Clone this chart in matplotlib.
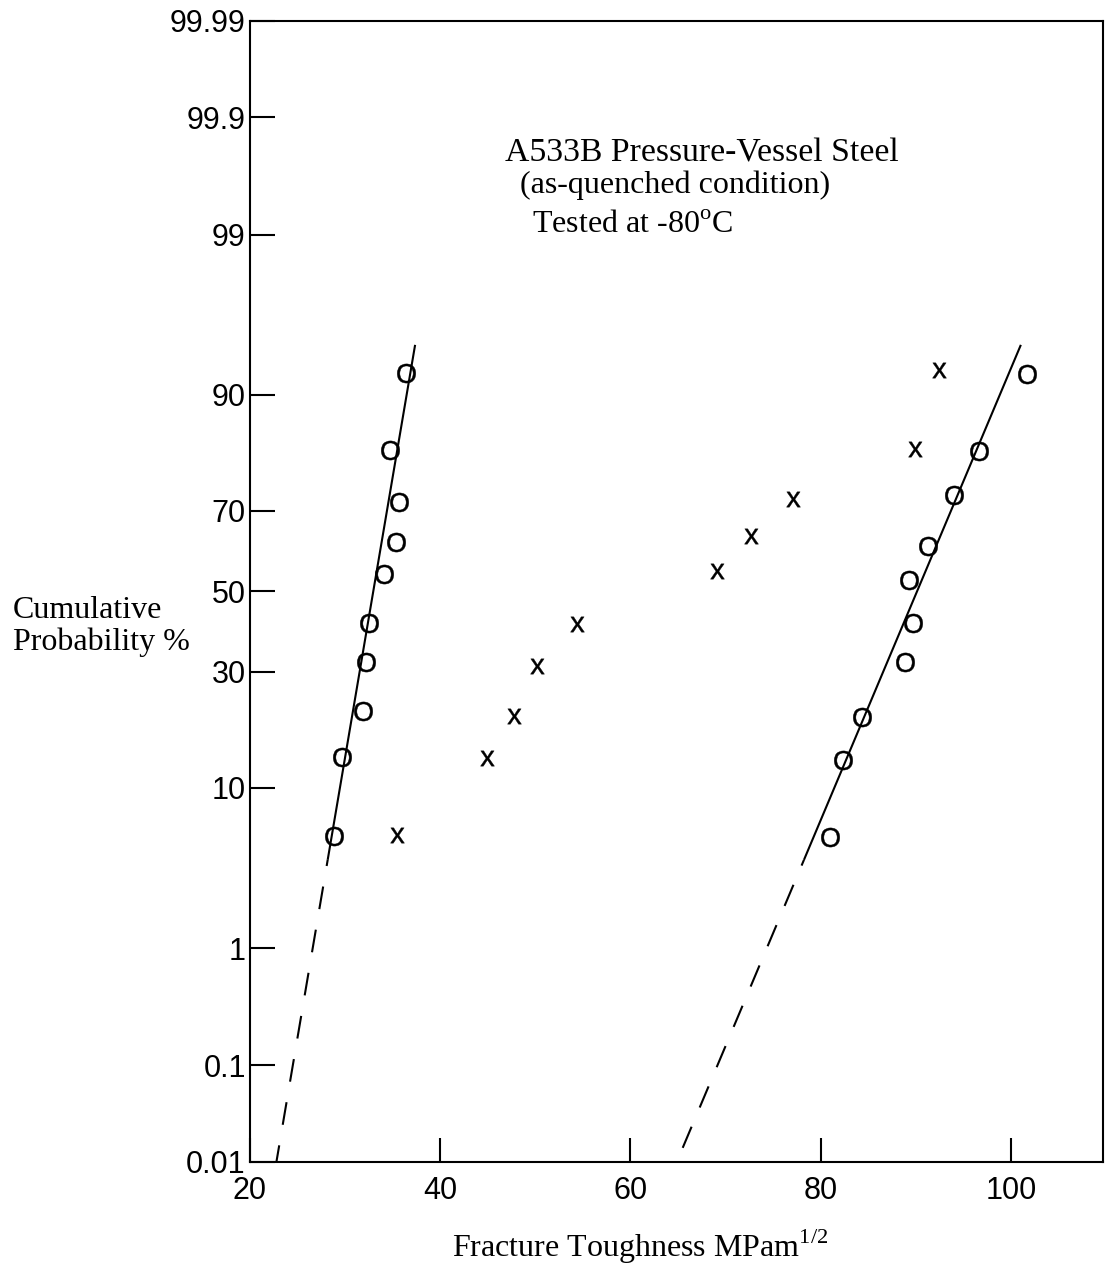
import numpy as np
import matplotlib
matplotlib.use("Agg")
import matplotlib.pyplot as plt
from statistics import NormalDist

plt.rcParams['font.family'] = ['Liberation Sans', 'DejaVu Sans']
plt.rcParams['mathtext.fontset'] = 'custom'
plt.rcParams['mathtext.rm'] = 'Liberation Serif'
plt.rcParams['mathtext.sf'] = 'Liberation Sans'

# ---------------- data ----------------
prob_ticks = [0.01, 0.1, 1, 10, 30, 50, 70, 90, 99, 99.9, 99.99]
prob_labels = ['0.01', '0.1', '1', '10', '30', '50', '70', '90', '99', '99.9', '99.99']
x_ticks = [20, 40, 60, 80, 100]

# lower group (O), fracture toughness MPa m^1/2 and cumulative probability %
lower_k = [28.81, 29.70, 31.93, 32.23, 32.46, 34.14, 35.30, 35.68, 34.77, 36.45]
lower_p = [5.53, 13.97, 21.69, 32.30, 41.86, 54.42, 62.54, 72.04, 82.12, 92.25]

# transition group (x)
trans_k = [35.48, 44.90, 47.71, 50.21, 54.41, 69.10, 72.72, 77.10, 89.90, 92.46]
trans_p = [5.57, 13.89, 20.80, 31.30, 41.66, 55.27, 64.08, 72.73, 82.40, 92.59]

# upper group (O)
upper_k = [81.03, 82.36, 84.29, 88.85, 89.66, 89.30, 91.30, 94.03, 96.63, 101.65]
upper_p = [5.45, 13.61, 20.61, 32.23, 41.81, 53.04, 61.62, 73.44, 81.95, 92.22]

# normal-distribution fit lines (mean, std) for lower and upper groups
fit_mu = [32.96, 90.13]
fit_sigma = [2.737, 6.79]
solid_range = [4.0, 94.6]     # cumulative % covered by solid part
dashed_range = [0.01, 4.0]    # extrapolated (dashed) part

W, H = 1107, 1265
nd = NormalDist()


def fwd(p):
    p = np.clip(np.asarray(p, dtype=float), 1e-9, 100 - 1e-9)
    return np.vectorize(lambda v: nd.inv_cdf(v / 100.0), otypes=[float])(p)


def inv(z):
    z = np.asarray(z, dtype=float)
    return np.vectorize(lambda v: 100.0 * nd.cdf(v), otypes=[float])(z)


def fit_x(mu, sigma, p):
    return [mu + sigma * nd.inv_cdf(v / 100.0) for v in p]


fig = plt.figure(figsize=(W / 100, H / 100), dpi=100)
ax = fig.add_axes([250 / W, 1 - 1161.7 / H, (1103 - 250) / W, (1161.7 - 21) / H])

ax.set_yscale('function', functions=(fwd, inv))
ax.set_xlim(20, 109.68)
ax.set_ylim(0.01, 99.99)

lw = 1.5
for mu, sg in zip(fit_mu, fit_sigma):
    ax.plot(fit_x(mu, sg, solid_range), solid_range, color='black', lw=lw,
            solid_capstyle='butt')
    ax.plot(fit_x(mu, sg, dashed_range[::-1]), dashed_range[::-1], color='black',
            lw=lw, ls=(8, (11, 10)), dash_capstyle='butt')

mk = dict(ls='none', mfc='black', mec='black', mew=0.3, color='black')
ax.plot(lower_k, lower_p, marker=r'$\mathsf{O}$', ms=13.8, **mk)
ax.plot(upper_k, upper_p, marker=r'$\mathsf{O}$', ms=13.8, **mk)
ax.plot(trans_k, trans_p, marker=r'$\mathsf{x}$', ms=11, **mk)

ax.set_yticks(prob_ticks, prob_labels)
ax.set_xticks(x_ticks, [str(v) for v in x_ticks])
ax.yaxis.set_minor_locator(matplotlib.ticker.NullLocator())
ax.xaxis.set_minor_locator(matplotlib.ticker.NullLocator())
ax.tick_params(axis='y', direction='in', length=18, width=1.5, labelsize=22,
               pad=3, colors='black')
ax.tick_params(axis='x', direction='in', length=17, width=1.5, labelsize=22,
               pad=10, colors='black')
for s in ax.spines.values():
    s.set_linewidth(1.5)
    s.set_color('black')

serif = ['Liberation Serif', 'DejaVu Serif']


def ftext(x, y, s, fs=23, **kw):
    fig.text(x / W, 1 - y / H, s, ha='left', va='baseline', family=serif,
             fontsize=fs, color='black', **kw)


ftext(505, 161.7, 'A533B Pressure-Vessel Steel', fs=24.3)
ftext(520, 192.7, '(as-quenched condition)')
ftext(532, 233.3, r'Tested at -80$^{\mathrm{o}}$C')
ftext(13, 618, 'Cumulative')
ftext(13, 650, 'Probability %')
ftext(452, 1257, r'Fracture Toughness MPam$^{\mathrm{1/2}}$')

fig.savefig('out.png', dpi=100)
